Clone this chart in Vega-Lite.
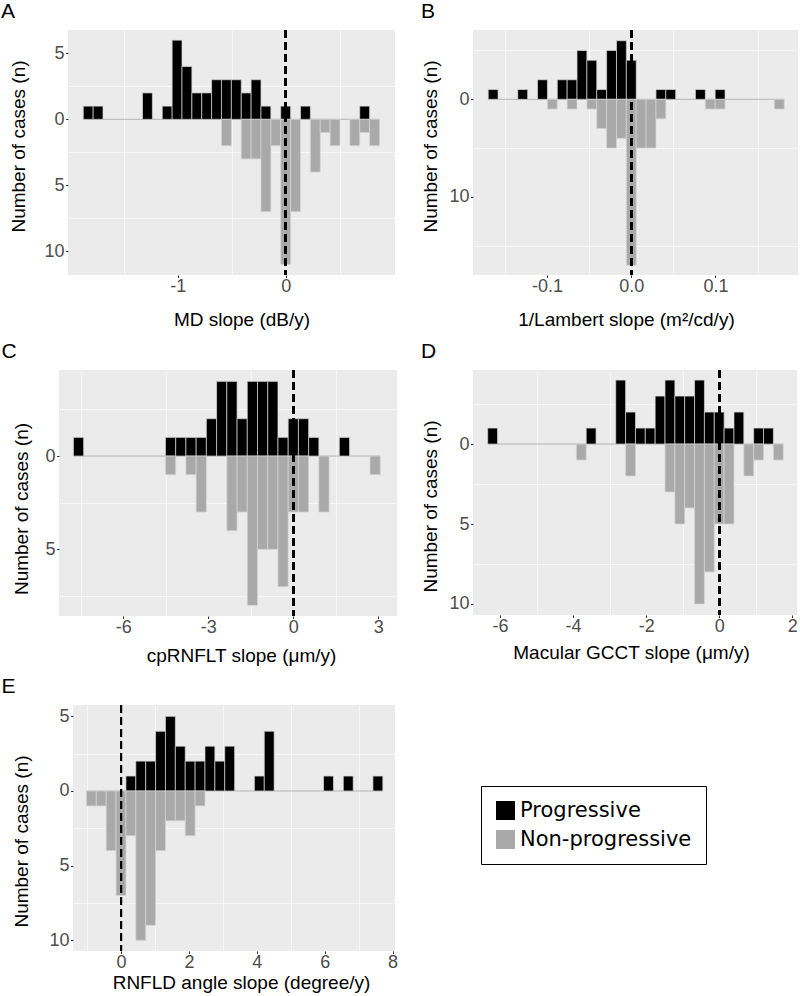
{
  "$schema": "https://vega.github.io/schema/vega-lite/v6.json",
  "padding": {"top": 1, "left": 0, "right": 0, "bottom": 0},
  "spacing": 0,
  "resolve": {"scale": {"color": "independent"}, "legend": {"color": "independent"}},
  "config": {
    "view": {"stroke": null},
    "font": "Liberation Sans",
    "axis": {"domain": false, "tickColor": "#333333", "tickSize": 2.5, "tickWidth": 1, "labelFont": "Liberation Sans", "labelFontSize": 18, "labelColor": "#4D4D4D", "labelPadding": 0, "labelFlush": false, "titleFont": "Liberation Sans", "titleFontSize": 19, "titleFontWeight": "normal", "titleColor": "#000000", "gridColor": "#FFFFFF", "gridWidth": 1.2, "gridOpacity": 1},
    "title": {"font": "Liberation Sans", "fontSize": 21, "fontWeight": "normal", "anchor": "start", "frame": "bounds", "baseline": "alphabetic", "offset": 7, "color": "#000000"}
  },
  "datasets": {
    "sp": [{}],
    "dA": [
      {"x0": -1.8737, "x1": -1.7823, "n": 1, "group": "Progressive"},
      {"x0": -1.7823, "x1": -1.6909, "n": 1, "group": "Progressive"},
      {"x0": -1.3253, "x1": -1.2339, "n": 2, "group": "Progressive"},
      {"x0": -1.1425, "x1": -1.0511, "n": 1, "group": "Progressive"},
      {"x0": -1.0511, "x1": -0.9597, "n": 6, "group": "Progressive"},
      {"x0": -0.9597, "x1": -0.8683, "n": 4, "group": "Progressive"},
      {"x0": -0.8683, "x1": -0.7769, "n": 2, "group": "Progressive"},
      {"x0": -0.7769, "x1": -0.6855, "n": 2, "group": "Progressive"},
      {"x0": -0.6855, "x1": -0.5941, "n": 3, "group": "Progressive"},
      {"x0": -0.5941, "x1": -0.5027, "n": 3, "group": "Progressive"},
      {"x0": -0.5027, "x1": -0.4113, "n": 3, "group": "Progressive"},
      {"x0": -0.4113, "x1": -0.3199, "n": 2, "group": "Progressive"},
      {"x0": -0.3199, "x1": -0.2285, "n": 3, "group": "Progressive"},
      {"x0": -0.2285, "x1": -0.1371, "n": 1, "group": "Progressive"},
      {"x0": -0.0457, "x1": 0.0457, "n": 1, "group": "Progressive"},
      {"x0": 0.1371, "x1": 0.2285, "n": 1, "group": "Progressive"},
      {"x0": 0.6855, "x1": 0.7769, "n": 1, "group": "Progressive"},
      {"x0": -0.5941, "x1": -0.5027, "n": -2, "group": "Non-progressive"},
      {"x0": -0.4113, "x1": -0.3199, "n": -3, "group": "Non-progressive"},
      {"x0": -0.3199, "x1": -0.2285, "n": -3, "group": "Non-progressive"},
      {"x0": -0.2285, "x1": -0.1371, "n": -7, "group": "Non-progressive"},
      {"x0": -0.1371, "x1": -0.0457, "n": -2, "group": "Non-progressive"},
      {"x0": -0.0457, "x1": 0.0457, "n": -11, "group": "Non-progressive"},
      {"x0": 0.0457, "x1": 0.1371, "n": -7, "group": "Non-progressive"},
      {"x0": 0.2285, "x1": 0.3199, "n": -4, "group": "Non-progressive"},
      {"x0": 0.3199, "x1": 0.4113, "n": -1, "group": "Non-progressive"},
      {"x0": 0.4113, "x1": 0.5027, "n": -2, "group": "Non-progressive"},
      {"x0": 0.5941, "x1": 0.6855, "n": -2, "group": "Non-progressive"},
      {"x0": 0.6855, "x1": 0.7769, "n": -1, "group": "Non-progressive"},
      {"x0": 0.7769, "x1": 0.8683, "n": -2, "group": "Non-progressive"}
    ],
    "dB": [
      {"x0": -0.16994, "x1": -0.15822, "n": 1, "group": "Progressive"},
      {"x0": -0.13478, "x1": -0.12306, "n": 1, "group": "Progressive"},
      {"x0": -0.11134, "x1": -0.09962, "n": 2, "group": "Progressive"},
      {"x0": -0.0879, "x1": -0.07618, "n": 2, "group": "Progressive"},
      {"x0": -0.07618, "x1": -0.06446, "n": 2, "group": "Progressive"},
      {"x0": -0.06446, "x1": -0.05274, "n": 5, "group": "Progressive"},
      {"x0": -0.05274, "x1": -0.04102, "n": 4, "group": "Progressive"},
      {"x0": -0.04102, "x1": -0.0293, "n": 1, "group": "Progressive"},
      {"x0": -0.0293, "x1": -0.01758, "n": 5, "group": "Progressive"},
      {"x0": -0.01758, "x1": -0.00586, "n": 6, "group": "Progressive"},
      {"x0": -0.00586, "x1": 0.00586, "n": 4, "group": "Progressive"},
      {"x0": 0.0293, "x1": 0.04102, "n": 1, "group": "Progressive"},
      {"x0": 0.04102, "x1": 0.05274, "n": 1, "group": "Progressive"},
      {"x0": 0.07618, "x1": 0.0879, "n": 1, "group": "Progressive"},
      {"x0": 0.09962, "x1": 0.11134, "n": 1, "group": "Progressive"},
      {"x0": -0.09962, "x1": -0.0879, "n": -1, "group": "Non-progressive"},
      {"x0": -0.07618, "x1": -0.06446, "n": -1, "group": "Non-progressive"},
      {"x0": -0.05274, "x1": -0.04102, "n": -1, "group": "Non-progressive"},
      {"x0": -0.04102, "x1": -0.0293, "n": -3, "group": "Non-progressive"},
      {"x0": -0.0293, "x1": -0.01758, "n": -5, "group": "Non-progressive"},
      {"x0": -0.01758, "x1": -0.00586, "n": -4, "group": "Non-progressive"},
      {"x0": -0.00586, "x1": 0.00586, "n": -17, "group": "Non-progressive"},
      {"x0": 0.00586, "x1": 0.01758, "n": -5, "group": "Non-progressive"},
      {"x0": 0.01758, "x1": 0.0293, "n": -5, "group": "Non-progressive"},
      {"x0": 0.0293, "x1": 0.04102, "n": -2, "group": "Non-progressive"},
      {"x0": 0.0879, "x1": 0.09962, "n": -1, "group": "Non-progressive"},
      {"x0": 0.09962, "x1": 0.11134, "n": -1, "group": "Non-progressive"},
      {"x0": 0.16994, "x1": 0.18166, "n": -1, "group": "Non-progressive"}
    ],
    "dC": [
      {"x0": -7.7615, "x1": -7.4005, "n": 1, "group": "Progressive"},
      {"x0": -4.5125, "x1": -4.1515, "n": 1, "group": "Progressive"},
      {"x0": -4.1515, "x1": -3.7905, "n": 1, "group": "Progressive"},
      {"x0": -3.7905, "x1": -3.4295, "n": 1, "group": "Progressive"},
      {"x0": -3.4295, "x1": -3.0685, "n": 1, "group": "Progressive"},
      {"x0": -3.0685, "x1": -2.7075, "n": 2, "group": "Progressive"},
      {"x0": -2.7075, "x1": -2.3465, "n": 4, "group": "Progressive"},
      {"x0": -2.3465, "x1": -1.9855, "n": 4, "group": "Progressive"},
      {"x0": -1.9855, "x1": -1.6245, "n": 2, "group": "Progressive"},
      {"x0": -1.6245, "x1": -1.2635, "n": 4, "group": "Progressive"},
      {"x0": -1.2635, "x1": -0.9025, "n": 4, "group": "Progressive"},
      {"x0": -0.9025, "x1": -0.5415, "n": 4, "group": "Progressive"},
      {"x0": -0.5415, "x1": -0.1805, "n": 1, "group": "Progressive"},
      {"x0": -0.1805, "x1": 0.1805, "n": 2, "group": "Progressive"},
      {"x0": 0.1805, "x1": 0.5415, "n": 2, "group": "Progressive"},
      {"x0": 0.5415, "x1": 0.9025, "n": 1, "group": "Progressive"},
      {"x0": 1.6245, "x1": 1.9855, "n": 1, "group": "Progressive"},
      {"x0": -4.5125, "x1": -4.1515, "n": -1, "group": "Non-progressive"},
      {"x0": -3.7905, "x1": -3.4295, "n": -1, "group": "Non-progressive"},
      {"x0": -3.4295, "x1": -3.0685, "n": -3, "group": "Non-progressive"},
      {"x0": -2.3465, "x1": -1.9855, "n": -4, "group": "Non-progressive"},
      {"x0": -1.9855, "x1": -1.6245, "n": -3, "group": "Non-progressive"},
      {"x0": -1.6245, "x1": -1.2635, "n": -8, "group": "Non-progressive"},
      {"x0": -1.2635, "x1": -0.9025, "n": -5, "group": "Non-progressive"},
      {"x0": -0.9025, "x1": -0.5415, "n": -5, "group": "Non-progressive"},
      {"x0": -0.5415, "x1": -0.1805, "n": -7, "group": "Non-progressive"},
      {"x0": -0.1805, "x1": 0.1805, "n": -3, "group": "Non-progressive"},
      {"x0": 0.1805, "x1": 0.5415, "n": -3, "group": "Non-progressive"},
      {"x0": 0.9025, "x1": 1.2635, "n": -3, "group": "Non-progressive"},
      {"x0": 2.7075, "x1": 3.0685, "n": -1, "group": "Non-progressive"}
    ],
    "dD": [
      {"x0": -6.33795, "x1": -6.06825, "n": 1, "group": "Progressive"},
      {"x0": -3.64095, "x1": -3.37125, "n": 1, "group": "Progressive"},
      {"x0": -2.83185, "x1": -2.56215, "n": 4, "group": "Progressive"},
      {"x0": -2.56215, "x1": -2.29245, "n": 2, "group": "Progressive"},
      {"x0": -2.29245, "x1": -2.02275, "n": 1, "group": "Progressive"},
      {"x0": -2.02275, "x1": -1.75305, "n": 1, "group": "Progressive"},
      {"x0": -1.75305, "x1": -1.48335, "n": 3, "group": "Progressive"},
      {"x0": -1.48335, "x1": -1.21365, "n": 4, "group": "Progressive"},
      {"x0": -1.21365, "x1": -0.94395, "n": 3, "group": "Progressive"},
      {"x0": -0.94395, "x1": -0.67425, "n": 3, "group": "Progressive"},
      {"x0": -0.67425, "x1": -0.40455, "n": 4, "group": "Progressive"},
      {"x0": -0.40455, "x1": -0.13485, "n": 2, "group": "Progressive"},
      {"x0": -0.13485, "x1": 0.13485, "n": 2, "group": "Progressive"},
      {"x0": 0.13485, "x1": 0.40455, "n": 1, "group": "Progressive"},
      {"x0": 0.40455, "x1": 0.67425, "n": 2, "group": "Progressive"},
      {"x0": 0.94395, "x1": 1.21365, "n": 1, "group": "Progressive"},
      {"x0": 1.21365, "x1": 1.48335, "n": 1, "group": "Progressive"},
      {"x0": -3.91065, "x1": -3.64095, "n": -1, "group": "Non-progressive"},
      {"x0": -2.56215, "x1": -2.29245, "n": -2, "group": "Non-progressive"},
      {"x0": -1.48335, "x1": -1.21365, "n": -3, "group": "Non-progressive"},
      {"x0": -1.21365, "x1": -0.94395, "n": -5, "group": "Non-progressive"},
      {"x0": -0.94395, "x1": -0.67425, "n": -4, "group": "Non-progressive"},
      {"x0": -0.67425, "x1": -0.40455, "n": -10, "group": "Non-progressive"},
      {"x0": -0.40455, "x1": -0.13485, "n": -8, "group": "Non-progressive"},
      {"x0": -0.13485, "x1": 0.13485, "n": -5, "group": "Non-progressive"},
      {"x0": 0.13485, "x1": 0.40455, "n": -5, "group": "Non-progressive"},
      {"x0": 0.67425, "x1": 0.94395, "n": -2, "group": "Non-progressive"},
      {"x0": 0.94395, "x1": 1.21365, "n": -1, "group": "Non-progressive"},
      {"x0": 1.48335, "x1": 1.75305, "n": -1, "group": "Non-progressive"}
    ],
    "dE": [
      {"x0": 0.1455, "x1": 0.4365, "n": 1, "group": "Progressive"},
      {"x0": 0.4365, "x1": 0.7275, "n": 2, "group": "Progressive"},
      {"x0": 0.7275, "x1": 1.0185, "n": 2, "group": "Progressive"},
      {"x0": 1.0185, "x1": 1.3095, "n": 4, "group": "Progressive"},
      {"x0": 1.3095, "x1": 1.6005, "n": 5, "group": "Progressive"},
      {"x0": 1.6005, "x1": 1.8915, "n": 3, "group": "Progressive"},
      {"x0": 1.8915, "x1": 2.1825, "n": 2, "group": "Progressive"},
      {"x0": 2.1825, "x1": 2.4735, "n": 2, "group": "Progressive"},
      {"x0": 2.4735, "x1": 2.7645, "n": 3, "group": "Progressive"},
      {"x0": 2.7645, "x1": 3.0555, "n": 2, "group": "Progressive"},
      {"x0": 3.0555, "x1": 3.3465, "n": 3, "group": "Progressive"},
      {"x0": 3.9285, "x1": 4.2195, "n": 1, "group": "Progressive"},
      {"x0": 4.2195, "x1": 4.5105, "n": 4, "group": "Progressive"},
      {"x0": 5.9655, "x1": 6.2565, "n": 1, "group": "Progressive"},
      {"x0": 6.5475, "x1": 6.8385, "n": 1, "group": "Progressive"},
      {"x0": 7.4205, "x1": 7.7115, "n": 1, "group": "Progressive"},
      {"x0": -1.0185, "x1": -0.7275, "n": -1, "group": "Non-progressive"},
      {"x0": -0.7275, "x1": -0.4365, "n": -1, "group": "Non-progressive"},
      {"x0": -0.4365, "x1": -0.1455, "n": -4, "group": "Non-progressive"},
      {"x0": -0.1455, "x1": 0.1455, "n": -7, "group": "Non-progressive"},
      {"x0": 0.1455, "x1": 0.4365, "n": -3, "group": "Non-progressive"},
      {"x0": 0.4365, "x1": 0.7275, "n": -10, "group": "Non-progressive"},
      {"x0": 0.7275, "x1": 1.0185, "n": -9, "group": "Non-progressive"},
      {"x0": 1.0185, "x1": 1.3095, "n": -4, "group": "Non-progressive"},
      {"x0": 1.3095, "x1": 1.6005, "n": -2, "group": "Non-progressive"},
      {"x0": 1.6005, "x1": 1.8915, "n": -2, "group": "Non-progressive"},
      {"x0": 1.8915, "x1": 2.1825, "n": -3, "group": "Non-progressive"},
      {"x0": 2.1825, "x1": 2.4735, "n": -1, "group": "Non-progressive"}
    ]
  },
  "vconcat": [
    {
      "spacing": 0,
      "resolve": {"scale": {"color": "independent"}, "legend": {"color": "independent"}},
      "hconcat": [
        {"width": 1, "height": 311, "data": {"name": "sp"}, "mark": {"type": "point", "size": 0, "opacity": 0, "strokeWidth": 0}},
        {
          "title": {"text": "A", "dx": -8},
          "width": 327, "height": 245,
          "view": {"fill": "#EBEBEB", "stroke": null},
          "data": {"name": "dA"},
          "resolve": {"axis": {"x": "independent", "y": "independent"}},
          "layer": [
            {"mark": {"type": "rule", "color": "#b3b3b3", "strokeWidth": 1},
             "encoding": {
               "x": {"aggregate": "min", "field": "x0", "type": "quantitative", "scale": {"domain": [-2.015, 1.012], "nice": false, "zero": false},
                     "axis": {"orient": "bottom", "values": [-1.5, -0.5, 0.5], "grid": true, "gridWidth": 0.6, "labels": false, "ticks": false, "domain": false, "title": null, "minExtent": 0, "maxExtent": 0}},
               "x2": {"aggregate": "max", "field": "x1"},
               "y": {"datum": 0, "type": "quantitative", "scale": {"domain": [-11.8, 6.77], "nice": false, "zero": false},
                     "axis": {"orient": "left", "values": [-7.5, -2.5, 2.5], "grid": true, "gridWidth": 0.6, "labels": false, "ticks": false, "domain": false, "title": null, "minExtent": 0, "maxExtent": 0}}
             }},
            {"mark": {"type": "bar", "stroke": "#d6d6d6", "strokeWidth": 0.7},
             "encoding": {
               "x": {"field": "x0", "type": "quantitative", "scale": {"domain": [-2.015, 1.012], "nice": false, "zero": false},
                     "axis": {"orient": "bottom", "values": [-1, 0], "title": "MD slope (dB/y)", "titlePadding": 15, "titleX": 173.5, "labelExpr": "datum.value < 0 ? '-' + abs(datum.value) : '' + datum.value"}},
               "x2": {"field": "x1"},
               "y": {"field": "n", "type": "quantitative", "scale": {"domain": [-11.8, 6.77], "nice": false, "zero": false},
                     "axis": {"orient": "left", "values": [-10, -5, 0, 5], "title": "Number of cases (n)", "titleY": 116, "titlePadding": 13, "minExtent": 27, "maxExtent": 27, "labelPadding": 1.5, "labelExpr": "'' + abs(datum.value)"}},
               "y2": {"datum": 0},
               "color": {"field": "group", "type": "nominal", "scale": {"domain": ["Progressive", "Non-progressive"], "range": ["#000000", "#a9a9a9"]}, "legend": null}
             }},
            {"mark": {"type": "rule", "color": "#000000", "strokeWidth": 2, "strokeDash": [8, 4]},
             "encoding": {"x": {"datum": 0, "type": "quantitative", "axis": null}}}
          ]
        },
        {"width": 26, "height": 1, "data": {"name": "sp"}, "mark": {"type": "point", "size": 0, "opacity": 0, "strokeWidth": 0}},
        {
          "title": {"text": "B", "dx": 0},
          "width": 325, "height": 245,
          "view": {"fill": "#EBEBEB", "stroke": null},
          "data": {"name": "dB"},
          "resolve": {"axis": {"x": "independent", "y": "independent"}},
          "layer": [
            {"mark": {"type": "rule", "color": "#b3b3b3", "strokeWidth": 1},
             "encoding": {
               "x": {"aggregate": "min", "field": "x0", "type": "quantitative", "scale": {"domain": [-0.188, 0.198], "nice": false, "zero": false},
                     "axis": {"orient": "bottom", "values": [-0.15, -0.05, 0.05, 0.15], "grid": true, "gridWidth": 0.6, "labels": false, "ticks": false, "domain": false, "title": null, "minExtent": 0, "maxExtent": 0}},
               "x2": {"aggregate": "max", "field": "x1"},
               "y": {"datum": 0, "type": "quantitative", "scale": {"domain": [-18.0, 7.1], "nice": false, "zero": false},
                     "axis": {"orient": "left", "values": [-15, -5, 5], "grid": true, "gridWidth": 0.6, "labels": false, "ticks": false, "domain": false, "title": null, "minExtent": 0, "maxExtent": 0}}
             }},
            {"mark": {"type": "bar", "stroke": "#d6d6d6", "strokeWidth": 0.7},
             "encoding": {
               "x": {"field": "x0", "type": "quantitative", "scale": {"domain": [-0.188, 0.198], "nice": false, "zero": false},
                     "axis": {"orient": "bottom", "values": [-0.1, 0, 0.1], "title": "1/Lambert slope (m²/cd/y)", "titlePadding": 15, "titleX": 153, "labelExpr": "datum.value < 0 ? '-' + format(abs(datum.value), '.1f') : format(datum.value, '.1f')"}},
               "x2": {"field": "x1"},
               "y": {"field": "n", "type": "quantitative", "scale": {"domain": [-18.0, 7.1], "nice": false, "zero": false},
                     "axis": {"orient": "left", "values": [-10, 0], "title": "Number of cases (n)", "titleY": 116, "titlePadding": 10, "minExtent": 23, "maxExtent": 23, "labelPadding": 1.5, "labelExpr": "'' + abs(datum.value)"}},
               "y2": {"datum": 0},
               "color": {"field": "group", "type": "nominal", "scale": {"domain": ["Progressive", "Non-progressive"], "range": ["#000000", "#a9a9a9"]}, "legend": null}
             }},
            {"mark": {"type": "rule", "color": "#000000", "strokeWidth": 2, "strokeDash": [8, 4]},
             "encoding": {"x": {"datum": 0, "type": "quantitative", "axis": null}}}
          ]
        }
      ]
    },
    {
      "spacing": 0,
      "resolve": {"scale": {"color": "independent"}, "legend": {"color": "independent"}},
      "hconcat": [
        {"width": 1, "height": 306, "data": {"name": "sp"}, "mark": {"type": "point", "size": 0, "opacity": 0, "strokeWidth": 0}},
        {
          "title": {"text": "C", "dx": -10.5},
          "width": 338, "height": 246,
          "view": {"fill": "#EBEBEB", "stroke": null},
          "data": {"name": "dC"},
          "resolve": {"axis": {"x": "independent", "y": "independent"}},
          "layer": [
            {"mark": {"type": "rule", "color": "#b3b3b3", "strokeWidth": 1},
             "encoding": {
               "x": {"aggregate": "min", "field": "x0", "type": "quantitative", "scale": {"domain": [-8.27, 3.66], "nice": false, "zero": false},
                     "axis": {"orient": "bottom", "values": [-7.5, -4.5, -1.5, 1.5], "grid": true, "gridWidth": 0.6, "labels": false, "ticks": false, "domain": false, "title": null, "minExtent": 0, "maxExtent": 0}},
               "x2": {"aggregate": "max", "field": "x1"},
               "y": {"datum": 0, "type": "quantitative", "scale": {"domain": [-8.57, 4.61], "nice": false, "zero": false},
                     "axis": {"orient": "left", "values": [-7.5, -2.5, 2.5], "grid": true, "gridWidth": 0.6, "labels": false, "ticks": false, "domain": false, "title": null, "minExtent": 0, "maxExtent": 0}}
             }},
            {"mark": {"type": "bar", "stroke": "#d6d6d6", "strokeWidth": 0.7},
             "encoding": {
               "x": {"field": "x0", "type": "quantitative", "scale": {"domain": [-8.27, 3.66], "nice": false, "zero": false},
                     "axis": {"orient": "bottom", "values": [-6, -3, 0, 3], "title": "cpRNFLT slope (μm/y)", "titlePadding": 9.5, "titleX": 182, "labelExpr": "datum.value < 0 ? '-' + abs(datum.value) : '' + datum.value"}},
               "x2": {"field": "x1"},
               "y": {"field": "n", "type": "quantitative", "scale": {"domain": [-8.57, 4.61], "nice": false, "zero": false},
                     "axis": {"orient": "left", "values": [-5, 0], "title": "Number of cases (n)", "titleY": 138.5, "titlePadding": 12, "minExtent": 16, "maxExtent": 16, "labelPadding": 1.5, "labelExpr": "'' + abs(datum.value)"}},
               "y2": {"datum": 0},
               "color": {"field": "group", "type": "nominal", "scale": {"domain": ["Progressive", "Non-progressive"], "range": ["#000000", "#a9a9a9"]}, "legend": null}
             }},
            {"mark": {"type": "rule", "color": "#000000", "strokeWidth": 2, "strokeDash": [8, 4]},
             "encoding": {"x": {"datum": 0, "type": "quantitative", "axis": null}}}
          ]
        },
        {"width": 24, "height": 1, "data": {"name": "sp"}, "mark": {"type": "point", "size": 0, "opacity": 0, "strokeWidth": 0}},
        {
          "title": {"text": "D", "dx": 0},
          "width": 324, "height": 245,
          "view": {"fill": "#EBEBEB", "stroke": null},
          "data": {"name": "dD"},
          "resolve": {"axis": {"x": "independent", "y": "independent"}},
          "layer": [
            {"mark": {"type": "rule", "color": "#b3b3b3", "strokeWidth": 1},
             "encoding": {
               "x": {"aggregate": "min", "field": "x0", "type": "quantitative", "scale": {"domain": [-6.74, 2.13], "nice": false, "zero": false},
                     "axis": {"orient": "bottom", "values": [-5, -3, -1, 1], "grid": true, "gridWidth": 0.6, "labels": false, "ticks": false, "domain": false, "title": null, "minExtent": 0, "maxExtent": 0}},
               "x2": {"aggregate": "max", "field": "x1"},
               "y": {"datum": 0, "type": "quantitative", "scale": {"domain": [-10.69, 4.63], "nice": false, "zero": false},
                     "axis": {"orient": "left", "values": [-7.5, -2.5, 2.5], "grid": true, "gridWidth": 0.6, "labels": false, "ticks": false, "domain": false, "title": null, "minExtent": 0, "maxExtent": 0}}
             }},
            {"mark": {"type": "bar", "stroke": "#d6d6d6", "strokeWidth": 0.7},
             "encoding": {
               "x": {"field": "x0", "type": "quantitative", "scale": {"domain": [-6.74, 2.13], "nice": false, "zero": false},
                     "axis": {"orient": "bottom", "values": [-6, -4, -2, 0, 2], "title": "Macular GCCT slope (μm/y)", "titlePadding": 8, "titleX": 158, "labelExpr": "datum.value < 0 ? '-' + abs(datum.value) : '' + datum.value"}},
               "x2": {"field": "x1"},
               "y": {"field": "n", "type": "quantitative", "scale": {"domain": [-10.69, 4.63], "nice": false, "zero": false},
                     "axis": {"orient": "left", "values": [-10, -5, 0], "title": "Number of cases (n)", "titleY": 136, "titlePadding": 10, "minExtent": 23, "maxExtent": 23, "labelPadding": 1.5, "labelExpr": "'' + abs(datum.value)"}},
               "y2": {"datum": 0},
               "color": {"field": "group", "type": "nominal", "scale": {"domain": ["Progressive", "Non-progressive"], "range": ["#000000", "#a9a9a9"]}, "legend": null}
             }},
            {"mark": {"type": "rule", "color": "#000000", "strokeWidth": 2, "strokeDash": [8, 4]},
             "encoding": {"x": {"datum": 0, "type": "quantitative", "axis": null}}}
          ]
        }
      ]
    },
    {
      "spacing": 0,
      "resolve": {"scale": {"color": "independent"}, "legend": {"color": "independent"}},
      "hconcat": [
        {"width": 1, "height": 1, "data": {"name": "sp"}, "mark": {"type": "point", "size": 0, "opacity": 0, "strokeWidth": 0}},
        {
          "title": {"text": "E", "dx": -10.5},
          "width": 322, "height": 246,
          "view": {"fill": "#EBEBEB", "stroke": null},
          "data": {"name": "dE"},
          "resolve": {"axis": {"x": "independent", "y": "independent"}},
          "layer": [
            {"mark": {"type": "rule", "color": "#b3b3b3", "strokeWidth": 1},
             "encoding": {
               "x": {"aggregate": "min", "field": "x0", "type": "quantitative", "scale": {"domain": [-1.414, 8.07], "nice": false, "zero": false},
                     "axis": {"orient": "bottom", "values": [-1, 1, 3, 5, 7], "grid": true, "gridWidth": 0.6, "labels": false, "ticks": false, "domain": false, "title": null, "minExtent": 0, "maxExtent": 0}},
               "x2": {"aggregate": "max", "field": "x1"},
               "y": {"datum": 0, "type": "quantitative", "scale": {"domain": [-10.72, 5.76], "nice": false, "zero": false},
                     "axis": {"orient": "left", "values": [-7.5, -2.5, 2.5], "grid": true, "gridWidth": 0.6, "labels": false, "ticks": false, "domain": false, "title": null, "minExtent": 0, "maxExtent": 0}}
             }},
            {"mark": {"type": "bar", "stroke": "#d6d6d6", "strokeWidth": 0.7},
             "encoding": {
               "x": {"field": "x0", "type": "quantitative", "scale": {"domain": [-1.414, 8.07], "nice": false, "zero": false},
                     "axis": {"orient": "bottom", "values": [0, 2, 4, 6, 8], "title": "RNFLD angle slope (degree/y)", "titlePadding": 2, "titleX": 168, "labelExpr": "datum.value < 0 ? '-' + abs(datum.value) : '' + datum.value"}},
               "x2": {"field": "x1"},
               "y": {"field": "n", "type": "quantitative", "scale": {"domain": [-10.72, 5.76], "nice": false, "zero": false},
                     "axis": {"orient": "left", "values": [-10, -5, 0, 5], "title": "Number of cases (n)", "titleY": 136, "titlePadding": 16, "minExtent": 26, "maxExtent": 26, "labelPadding": 1.5, "labelExpr": "'' + abs(datum.value)"}},
               "y2": {"datum": 0},
               "color": {"field": "group", "type": "nominal", "scale": {"domain": ["Progressive", "Non-progressive"], "range": ["#000000", "#a9a9a9"]}, "legend": null}
             }},
            {"mark": {"type": "rule", "color": "#000000", "strokeWidth": 2, "strokeDash": [8, 4]},
             "encoding": {"x": {"datum": 0, "type": "quantitative", "axis": null}}}
          ]
        },
        {"width": 23, "height": 1, "data": {"name": "sp"}, "mark": {"type": "point", "size": 0, "opacity": 0, "strokeWidth": 0}},
        {
          "width": 150, "height": 150,
          "data": {"name": "dE"},
          "mark": {"type": "square", "opacity": 0},
          "encoding": {
            "color": {"field": "group", "type": "nominal", "scale": {"domain": ["Progressive", "Non-progressive"], "range": ["#000000", "#a9a9a9"]},
                      "legend": {"orient": "none", "legendX": 60, "legendY": 81, "title": null, "symbolType": "square", "symbolSize": 361, "symbolOpacity": 1, "symbolStrokeWidth": 0, "labelFont": "DejaVu Sans", "labelFontSize": 21, "labelColor": "#000000", "labelOffset": 4, "labelLimit": 400, "rowPadding": 7, "padding": 14, "strokeColor": "#000000", "fillColor": "#FFFFFF"}}
          }
        }
      ]
    }
  ]
}
